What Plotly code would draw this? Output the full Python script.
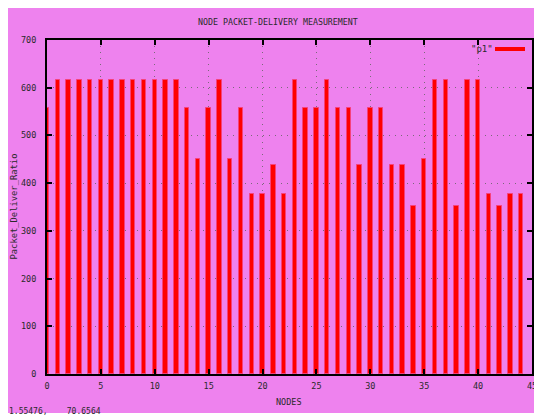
import plotly.graph_objects as go

nodes = list(range(45))
delivery = [558, 616, 616, 616, 616, 616, 616, 616, 616, 616,
            616, 616, 616, 558, 450, 558, 616, 450, 558, 378,
            378, 437, 378, 616, 558, 558, 616, 558, 558, 437,
            558, 558, 437, 437, 353, 450, 616, 616, 353, 616,
            616, 378, 353, 378, 378]
series_name = '"p1"'
title_text = "NODE PACKET-DELIVERY MEASUREMENT"
x_title = "NODES"
y_title = "Packet_Deliver_Ratio"
status_text = "1.55476,    70.6564"
x_ticks = [0, 5, 10, 15, 20, 25, 30, 35, 40, 45]
y_ticks = [0, 100, 200, 300, 400, 500, 600, 700]

VIOLET = "#EE82EE"
FONT = "DejaVu Sans Mono, monospace"
TXT = "#2a2a2a"

W, H = 534, 410
L, R, T, B = 39, 10, 32, 44
pw, ph = W - L - R, H - T - B

def px(fx):
    return (fx - L) / pw

def py(fy):
    return (H - B - fy) / ph

fig = go.Figure()
fig.add_trace(go.Bar(
    x=nodes, y=delivery, name=series_name, width=0.42,
    marker=dict(color="#FF0000", line=dict(color="#F6417A", width=1)),
    showlegend=False,
))
fig.add_trace(go.Scatter(
    x=[None], y=[None], mode="lines", name=" ",
    line=dict(color="#FF0000", width=4), showlegend=True,
))

axis_common = dict(
    showline=True, linecolor="black", linewidth=2, mirror="allticks",
    ticks="inside", ticklen=5, tickwidth=1.5, tickcolor="black",
    showgrid=True, gridcolor="#7a6a7a", gridwidth=1, griddash="1px,5px",
    zeroline=False,
    tickfont=dict(family=FONT, size=8.5, color=TXT),
)

fig.update_xaxes(range=[0, 45], tickvals=x_ticks, ticklabelstandoff=3, **axis_common)
fig.update_yaxes(range=[0, 700], tickvals=y_ticks, ticklabelstandoff=7, **axis_common)

fig.update_layout(
    width=W, height=H,
    margin=dict(l=L, r=R, t=T, b=B, pad=0, autoexpand=False),
    paper_bgcolor="white", plot_bgcolor=VIOLET,
    bargap=0,
    showlegend=True,
    legend=dict(x=px(482), y=py(41), xanchor="left", yanchor="middle",
                bgcolor="rgba(0,0,0,0)", borderwidth=0,
                font=dict(family=FONT, size=9, color=TXT), itemwidth=30),
    shapes=[dict(type="rect", xref="paper", yref="paper",
                 x0=-0.2, x1=1.2, y0=py(405), y1=1.3,
                 fillcolor=VIOLET, line=dict(width=0), layer="below")],
    annotations=[
        dict(text=title_text, xref="paper", yref="paper", x=px(270), y=py(14),
             xanchor="center", yanchor="middle", showarrow=False,
             font=dict(family=FONT, size=8.3, color=TXT)),
        dict(text=x_title, xref="paper", yref="paper", x=px(281), y=py(394),
             xanchor="center", yanchor="middle", showarrow=False,
             font=dict(family=FONT, size=8.5, color=TXT)),
        dict(text=y_title, xref="paper", yref="paper", x=px(5.5), y=0.5,
             xanchor="center", yanchor="middle", showarrow=False, textangle=-90,
             font=dict(family=FONT, size=8.8, color=TXT)),
        dict(text=series_name, xref="paper", yref="paper", x=px(487), y=py(41),
             xanchor="right", yanchor="middle", showarrow=False,
             font=dict(family=FONT, size=9, color=TXT)),
        dict(text=status_text, xref="paper", yref="paper", x=px(-1), y=py(404),
             xanchor="left", yanchor="middle", showarrow=False,
             font=dict(family=FONT, size=8, color=TXT)),
    ],
)

fig.write_html("out.html")
